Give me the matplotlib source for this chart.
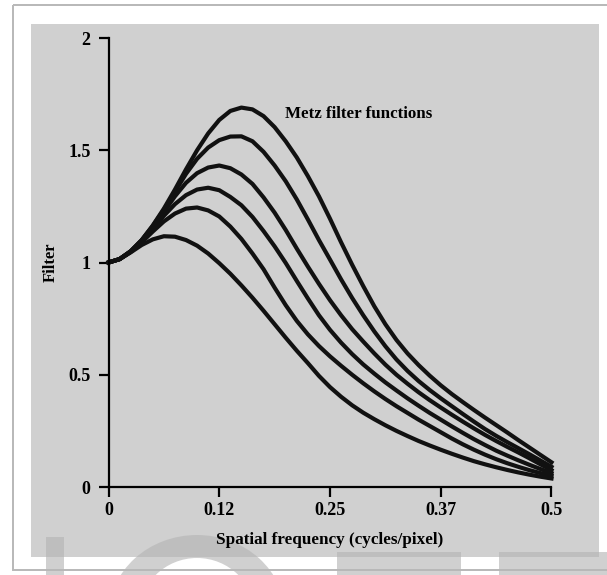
import matplotlib
matplotlib.use("Agg")
import matplotlib.pyplot as plt
from matplotlib.patches import Rectangle, Ellipse
from matplotlib.transforms import Affine2D

# values (one sample every 0.0125 cycles/pixel)
freq = [0.0, 0.0125, 0.025, 0.0375, 0.05, 0.0625, 0.075, 0.0875, 0.1, 0.1125,
        0.125, 0.1375, 0.15, 0.1625, 0.175, 0.1875, 0.2, 0.2125, 0.225, 0.2375,
        0.25, 0.2625, 0.275, 0.2875, 0.3, 0.3125, 0.325, 0.3375, 0.35, 0.3625,
        0.375, 0.3875, 0.4, 0.4125, 0.425, 0.4375, 0.45, 0.4625, 0.475, 0.4875,
        0.5]

metz_1 = [1.000, 1.015, 1.045, 1.078, 1.103, 1.117, 1.115, 1.100, 1.075, 1.040,
          0.997, 0.950, 0.898, 0.843, 0.785, 0.725, 0.665, 0.607, 0.552, 0.495,
          0.445, 0.402, 0.364, 0.331, 0.302, 0.275, 0.250, 0.227, 0.205, 0.185,
          0.166, 0.148, 0.131, 0.115, 0.101, 0.088, 0.076, 0.065, 0.055, 0.046,
          0.038]
metz_2 = [1.000, 1.015, 1.047, 1.090, 1.138, 1.183, 1.218, 1.240, 1.245, 1.232,
          1.205, 1.160, 1.105, 1.040, 0.970, 0.888, 0.810, 0.740, 0.680, 0.628,
          0.582, 0.540, 0.500, 0.462, 0.426, 0.392, 0.360, 0.330, 0.300, 0.272,
          0.244, 0.216, 0.190, 0.166, 0.144, 0.124, 0.106, 0.090, 0.075, 0.062,
          0.050]
metz_3 = [1.000, 1.015, 1.048, 1.095, 1.150, 1.208, 1.260, 1.300, 1.325, 1.333,
          1.322, 1.292, 1.255, 1.203, 1.140, 1.072, 0.998, 0.918, 0.840, 0.765,
          0.700, 0.643, 0.592, 0.546, 0.505, 0.466, 0.430, 0.395, 0.362, 0.330,
          0.300, 0.270, 0.241, 0.213, 0.187, 0.162, 0.140, 0.119, 0.099, 0.080,
          0.062]
metz_4 = [1.000, 1.015, 1.050, 1.098, 1.158, 1.225, 1.295, 1.355, 1.398, 1.423,
          1.432, 1.420, 1.392, 1.350, 1.290, 1.222, 1.145, 1.062, 0.982, 0.905,
          0.832, 0.765, 0.703, 0.648, 0.595, 0.545, 0.500, 0.460, 0.422, 0.387,
          0.354, 0.322, 0.291, 0.261, 0.232, 0.205, 0.179, 0.154, 0.128, 0.101,
          0.075]
metz_5 = [1.000, 1.015, 1.050, 1.100, 1.163, 1.235, 1.315, 1.395, 1.462, 1.512,
          1.545, 1.561, 1.562, 1.540, 1.493, 1.432, 1.362, 1.281, 1.192, 1.100,
          1.013, 0.925, 0.842, 0.765, 0.693, 0.627, 0.568, 0.517, 0.472, 0.432,
          0.395, 0.360, 0.325, 0.291, 0.258, 0.228, 0.200, 0.173, 0.146, 0.118,
          0.090]
metz_6 = [1.000, 1.015, 1.050, 1.100, 1.165, 1.240, 1.325, 1.415, 1.500, 1.575,
          1.635, 1.675, 1.690, 1.682, 1.652, 1.603, 1.540, 1.468, 1.385, 1.295,
          1.195, 1.090, 0.990, 0.895, 0.805, 0.725, 0.655, 0.595, 0.543, 0.496,
          0.453, 0.414, 0.378, 0.343, 0.309, 0.276, 0.243, 0.209, 0.176, 0.143,
          0.110]

curves = [metz_1, metz_2, metz_3, metz_4, metz_5, metz_6]

x_ticks = [0, 0.125, 0.25, 0.375, 0.5]
x_tick_labels = ["0", "0.12", "0.25", "0.37", "0.5"]
y_ticks = [0, 0.5, 1, 1.5, 2]
y_tick_labels = ["0", "0.5", "1", "1.5", "2"]

W, H = 607, 575
fig = plt.figure(figsize=(W / 100, H / 100), dpi=100)
fig.patch.set_facecolor("white")

# transform for image pixel coords (y pointing down)
px = Affine2D().scale(1 / W, -1 / H).translate(0, 1) + fig.transFigure

# page frame and grey panel
fig.add_artist(Rectangle((12.5, 5), 700, 565, transform=px, facecolor="white",
                         edgecolor="none", zorder=-5))
fig.add_artist(Rectangle((31, 24), 568, 533, transform=px, facecolor="#d0d0d0",
                         edgecolor="none", zorder=-4))

# faint watermark letters at the bottom
wm = dict(transform=px, facecolor="#b4b4b4", alpha=0.62, edgecolor="none", zorder=-3)
fig.add_artist(Rectangle((46, 537), 18, 60, **wm))
fig.add_artist(Ellipse((197, 615), 176, 160, **wm))
fig.add_artist(Ellipse((197, 615), 116, 114, transform=px, facecolor="white",
                       edgecolor="none", zorder=-2.5))
fig.add_artist(Rectangle((337, 552), 124, 40, **wm))
fig.add_artist(Rectangle((499, 552), 120, 40, **wm))
fig.add_artist(Rectangle((12.5, 5), 700, 565, transform=px, facecolor="none",
                         edgecolor="#b8b8b8", linewidth=1.4, zorder=-2))

ax = fig.add_axes([108.5 / W, 88 / H, 443 / W, 449 / H])
ax.set_facecolor("none")

for values in curves:
    ax.plot(freq, values, color="#111111", linewidth=3.0, clip_on=False,
            solid_joinstyle="round", solid_capstyle="projecting")

ax.set_xlim(0, 0.5)
ax.set_ylim(0, 2)
for side in ["top", "right"]:
    ax.spines[side].set_visible(False)
for side in ["left", "bottom"]:
    ax.spines[side].set_linewidth(1.6)

font = "Liberation Serif"
ax.set_xticks(x_ticks)
ax.set_xticklabels(x_tick_labels, fontfamily=font, fontsize=13, fontweight="bold")
ax.set_yticks(y_ticks)
ax.set_yticklabels(y_tick_labels, fontfamily=font, fontsize=13, fontweight="bold")
ax.tick_params(axis="both", direction="out", length=7, width=1.6)
ax.tick_params(axis="x", pad=4)
ax.tick_params(axis="y", pad=6)

ax.set_xlabel("Spatial frequency (cycles/pixel)", fontfamily=font, fontsize=12.3,
              fontweight="bold")
ax.xaxis.set_label_coords(0.5, -0.1)
ax.set_ylabel("Filter", fontfamily=font, fontsize=12, fontweight="bold")
ax.yaxis.set_label_coords(-0.112, 0.5)

ax.text(0.199, 1.66, "Metz filter functions", fontfamily=font, fontsize=12.2,
        fontweight="bold", ha="left", va="center")

fig.savefig("out.png", dpi=100)
